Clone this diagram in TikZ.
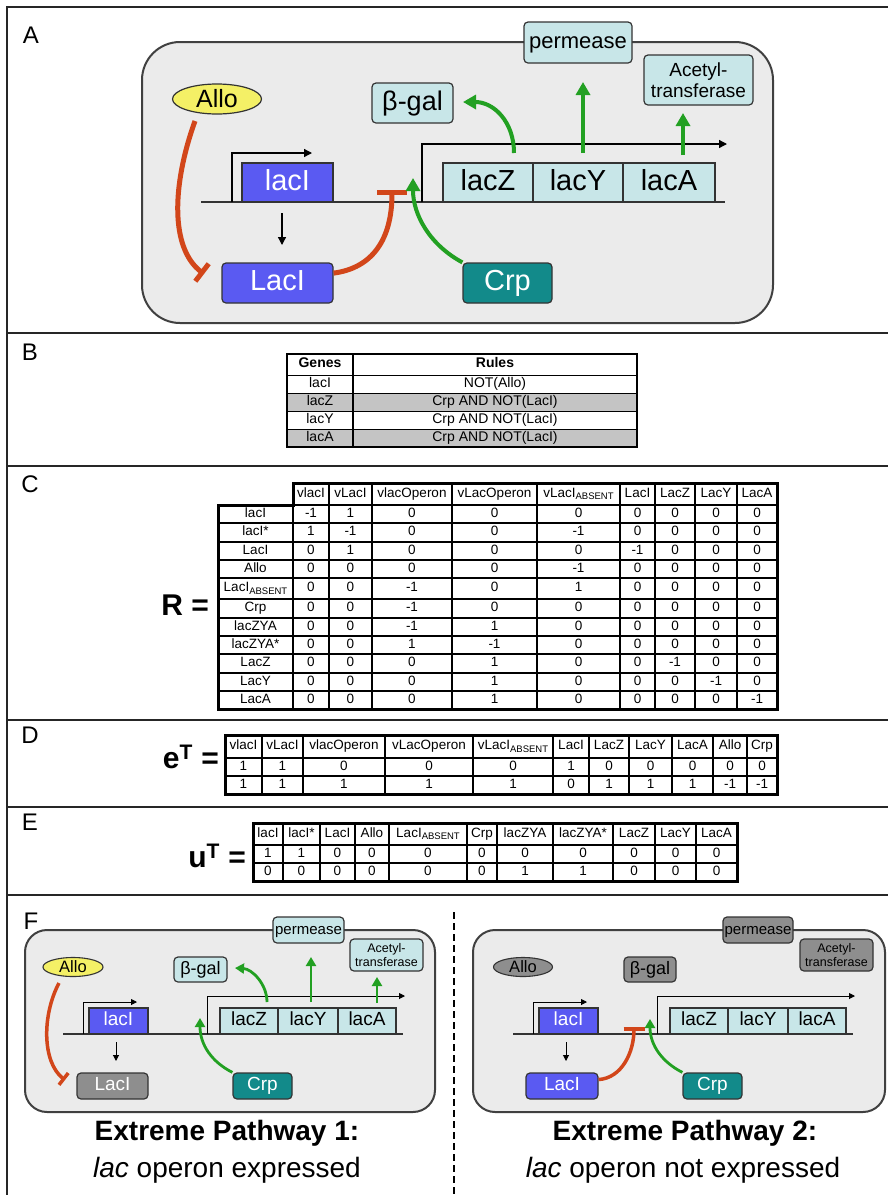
\documentclass[tikz,border=0pt]{standalone}
\usepackage{fontspec}
\setmainfont{Liberation Sans}
\usetikzlibrary{arrows.meta,shapes.geometric}
\definecolor{cellgray}{HTML}{EBEBEB}
\definecolor{geneblue}{HTML}{5A5AF2}
\definecolor{lightcyan}{HTML}{C8E6E8}
\definecolor{tealc}{HTML}{128A8A}
\definecolor{alloyellow}{HTML}{F4F066}
\definecolor{repred}{HTML}{D2461A}
\definecolor{actgreen}{HTML}{22A022}
\definecolor{offgray}{HTML}{8E8E8E}
\definecolor{rowgray}{HTML}{C4C4C4}
\newcommand\fs[1]{\fontsize{#1}{#1}\selectfont}
\newcommand\absub{\raisebox{-0.35ex}{\fontsize{9.5}{9.5}\selectfont ABSENT}}
\def\CXh{{293,329,372,452,537,620,655,695,737,777}}
\def\CX{{218,293,329,372,452,537,620,655,695,737,777}}
\def\DX{{225,262,303,385,473,553,589,629,672,713,747,777}}
\def\EX{{253,283,320,355,389,467,497,553,613,655,696,737}}
% #1 name prefix, #2 x-boundary array, #3 top, #4 bottom, #5 entries
\newcommand\trow[5]{%
  \foreach \vv [count=\cc] in {#5} {%
    \pgfmathsetmacro\xa{#2[\cc-1]}%
    \pgfmathsetmacro\xb{#2[\cc]}%
    \draw[tcell] (\xa,#3) rectangle (\xb,#4);
    \node[ttext] (#1\cc) at ({(\xa+\xb)/2},{(#3+#4)/2}) {\vv};
  }}
\begin{document}
\begin{tikzpicture}[x=1pt,y=-1pt,
  frame/.style={line width=2.5pt, draw=black!85},
  cellbox/.style={draw=black!75, fill=cellgray, line width=2pt},
  gene/.style={draw=black!80, line width=1.2pt, inner sep=0pt},
  prot/.style={draw=black!80, line width=1.2pt, rounded corners=4pt, inner sep=0pt},
  multi/.style={draw=black!80, line width=1.2pt, rounded corners=4pt, inner sep=0pt, align=center},
  bigtxt/.style={font=\fs{29}, text height=21pt, text depth=6pt},
  midtxt/.style={font=\fs{27}, text height=19.5pt, text depth=5.5pt},
  smtxt/.style={font=\fs{19}, text height=13.7pt, text depth=3.8pt},
  dna/.style={line width=1.5pt, draw=black!80},
  tx/.style={line width=1.3pt, draw=black, -{Triangle[length=8pt,width=8pt]}},
  txs/.style={line width=1pt, draw=black, -{Triangle[length=6pt,width=6pt]}},
  act/.style={line width=4pt, draw=actgreen, -{Triangle[length=13pt,width=14pt]}},
  acts/.style={line width=2.8pt, draw=actgreen, -{Triangle[length=9pt,width=10pt]}},
  rep/.style={line width=5pt, draw=repred},
  reps/.style={line width=3.5pt, draw=repred},
  tcell/.style={line width=1.6pt, draw=black},
  ttext/.style={inner sep=0pt, font=\fs{13.5}, text height=9.7pt, text depth=2.8pt},
  plabel/.style={inner sep=0pt, font=\fs{24}},
  eq/.style={inner sep=0pt, anchor=east, font=\fs{30}\bfseries}
]
\useasboundingbox (0,0) rectangle (888,1195);
\fill[white] (0,0) rectangle (888,1195);

% ---------------- frame and dividers
\coordinate (fBL) at (7,1195); \coordinate (fTL) at (7,7); \coordinate (fTR) at (888,7);
\draw[frame] (fBL) -- (fTL) -- (fTR);
\foreach \yy [count=\i] in {333,466,720,807,895} {
  \coordinate (dl\i) at (7,\yy); \coordinate (dr\i) at (888,\yy);
  \draw[frame] (dl\i) -- (dr\i);
}
\node[plabel] (labA) at (31,35) {A};
\node[plabel] (labB) at (30,352) {B};
\node[plabel] (labC) at (30,484) {C};
\node[plabel] (labD) at (30,735) {D};
\node[plabel] (labE) at (30,822) {E};
\node[plabel] (labF) at (31,921) {F};

% ---------------- Panel A
\draw[cellbox, rounded corners=38pt] (142,42) rectangle (773,323);
\coordinate (dAl) at (201,202); \coordinate (dAr) at (725,202);
\draw[dna] (dAl) -- (dAr);
\node[gene, bigtxt, fill=geneblue, text=white, minimum width=91pt, minimum height=39pt] (AlacIg) at (287.5,182.5) {lacI};
\node[gene, bigtxt, fill=lightcyan, minimum width=90pt, minimum height=39pt] (AlacZ) at (488,182.5) {lacZ};
\node[gene, bigtxt, fill=lightcyan, minimum width=90pt, minimum height=39pt] (AlacY) at (578,182.5) {lacY};
\node[gene, bigtxt, fill=lightcyan, minimum width=92pt, minimum height=39pt] (AlacA) at (669,182.5) {lacA};
\coordinate (pA1s) at (232,202); \coordinate (pA1e) at (312,153);
\draw[tx] (pA1s) |- (pA1e);
\coordinate (pA2s) at (422,202); \coordinate (pA2e) at (727,144);
\draw[tx] (pA2s) |- (pA2e);
\node[prot, bigtxt, fill=geneblue, text=white, minimum width=111pt, minimum height=40pt] (ALacIp) at (277.5,283) {LacI};
\node[prot, bigtxt, fill=tealc, text=white, minimum width=89pt, minimum height=40pt] (ACrp) at (507.5,283) {Crp};
\node[ellipse, draw=black!80, line width=1.2pt, fill=alloyellow, minimum width=89pt, minimum height=30pt, inner sep=0pt, font=\fs{25}] (AAllo) at (217,99) {Allo};
\node[prot, midtxt, fill=lightcyan, minimum width=81pt, minimum height=40pt] (Abgal) at (412.5,103) {β-gal};
\node[prot, fill=lightcyan, minimum width=108pt, minimum height=41pt, font=\fs{22}, text height=16pt, text depth=4.5pt] (Aperm) at (578,42.5) {permease};
\node[multi, fill=lightcyan, minimum width=109pt, minimum height=50pt, font=\fontsize{19}{20.5}\selectfont] (Aacet) at (698.5,80) {Acetyl-\\transferase};
\coordinate (sA1) at (282,213); \coordinate (sA2) at (282,245);
\draw[tx] (sA1) -- (sA2);
\coordinate (rA0) at (195,121); \coordinate (rA1) at (204,274);
\draw[rep, -{Bar[width=22pt]}] (rA0) .. controls (172,185) and (170,248) .. (rA1);
\coordinate (rB1) at (392,190);
\draw[rep, -{Bar[width=30pt]}] (ALacIp.10) .. controls (372,268) and (392,240) .. (rB1);
\coordinate (gA1) at (413,178);
\draw[act] (ACrp.north west) .. controls (430,245) and (413,215) .. (gA1);
\coordinate (gA2) at (514,153); \coordinate (gA2e) at (463,102);
\draw[act] (gA2) .. controls (514,122) and (494,102) .. (gA2e);
\coordinate (gA3) at (583,153); \coordinate (gA4) at (583,82);
\draw[act] (gA3) -- (gA4);
\coordinate (gA5) at (683,155); \coordinate (gA6) at (683,113);
\draw[act] (gA5) -- (gA6);

% ---------------- Panel B
\fill[rowgray] (287,393) rectangle (637,411);
\fill[rowgray] (287,429) rectangle (637,447);
\foreach \yy in {375,393,411,429} { \draw[line width=0.8pt] (287,\yy) -- (637,\yy); }
\draw[line width=2pt] (353,354) -- (353,447);
\draw[line width=2pt] (287,354) rectangle (637,447);
\node[ttext, font=\fs{14}\bfseries] (Bgenes) at (320,364.5) {Genes};
\node[ttext, font=\fs{14}\bfseries] (Brules) at (495,364.5) {Rules};
\foreach \g/\rr/\yy [count=\i] in {lacI/NOT(Allo)/384, lacZ/Crp AND NOT(LacI)/402, lacY/Crp AND NOT(LacI)/420, lacA/Crp AND NOT(LacI)/438} {
  \node[ttext, font=\fs{14}] (Bg\i) at (320,\yy) {\g};
  \node[ttext, font=\fs{14}] (Br\i) at (495,\yy) {\rr};
}

% ---------------- Panel C
\node[eq] (Req) at (209,605) {R =};
\trow{Ch}{\CXh}{483}{505}{vlacI,vLacI,vlacOperon,vLacOperon,vLacI\absub,LacI,LacZ,LacY,LacA}
\trow{Ca}{\CX}{505}{523}{lacI,-1,1,0,0,0,0,0,0,0}
\trow{Cb}{\CX}{523}{542}{lacI*,1,-1,0,0,-1,0,0,0,0}
\trow{Cc}{\CX}{542}{560}{LacI,0,1,0,0,0,-1,0,0,0}
\trow{Cd}{\CX}{560}{578}{Allo,0,0,0,0,-1,0,0,0,0}
\trow{Ce}{\CX}{578}{599}{LacI\absub,0,0,-1,0,1,0,0,0,0}
\trow{Cf}{\CX}{599}{618}{Crp,0,0,-1,0,0,0,0,0,0}
\trow{Cg}{\CX}{618}{636}{lacZYA,0,0,-1,1,0,0,0,0,0}
\trow{Ch}{\CX}{636}{654}{lacZYA*,0,0,1,-1,0,0,0,0,0}
\trow{Ci}{\CX}{654}{673}{LacZ,0,0,0,1,0,0,-1,0,0}
\trow{Cj}{\CX}{673}{691}{LacY,0,0,0,1,0,0,0,-1,0}
\trow{Ck}{\CX}{691}{709}{LacA,0,0,0,1,0,0,0,0,-1}
\draw[line width=3pt] (293,483) -- (777,483) -- (777,709) -- (218,709) -- (218,505) -- (293,505) -- cycle;

% ---------------- Panel D
\node[eq] (Deq) at (219,757) {e\textsuperscript{T} =};
\trow{Dh}{\DX}{735}{758}{vlacI,vLacI,vlacOperon,vLacOperon,vLacI\absub,LacI,LacZ,LacY,LacA,Allo,Crp}
\trow{Da}{\DX}{758}{776}{1,1,0,0,0,1,0,0,0,0,0}
\trow{Db}{\DX}{776}{794}{1,1,1,1,1,0,1,1,1,-1,-1}
\draw[line width=3pt] (225,735) rectangle (777,794);

% ---------------- Panel E
\node[eq] (Eeq) at (246,856) {u\textsuperscript{T} =};
\trow{Eh}{\EX}{823}{845}{lacI,lacI*,LacI,Allo,LacI\absub,Crp,lacZYA,lacZYA*,LacZ,LacY,LacA}
\trow{Ea}{\EX}{845}{863}{1,1,0,0,0,0,0,0,0,0,0}
\trow{Eb}{\EX}{863}{881}{0,0,0,0,0,0,1,1,0,0,0}
\draw[line width=3pt] (253,823) rectangle (737,881);

% ---------------- Panel F left
\draw[cellbox, rounded corners=22pt] (25,930) rectangle (435,1112);
\coordinate (dFl) at (63,1034); \coordinate (dFr) at (403,1034);
\draw[dna] (dFl) -- (dFr);
\node[gene, smtxt, fill=geneblue, text=white, minimum width=59pt, minimum height=26pt] (FlacIg) at (118.5,1021) {lacI};
\node[gene, smtxt, fill=lightcyan, minimum width=58pt, minimum height=26pt] (FlacZ) at (249,1021) {lacZ};
\node[gene, smtxt, fill=lightcyan, minimum width=60pt, minimum height=26pt] (FlacY) at (308,1021) {lacY};
\node[gene, smtxt, fill=lightcyan, minimum width=58pt, minimum height=26pt] (FlacA) at (367,1021) {lacA};
\coordinate (pF1s) at (83,1034); \coordinate (pF1e) at (137,1002);
\draw[txs] (pF1s) |- (pF1e);
\coordinate (pF2s) at (207,1034); \coordinate (pF2e) at (405,996);
\draw[txs] (pF2s) |- (pF2e);
\node[prot, smtxt, fill=offgray, text=white, minimum width=71pt, minimum height=26pt] (FLacIp) at (112.5,1086) {LacI};
\node[prot, smtxt, fill=tealc, text=white, minimum width=59pt, minimum height=26pt] (FCrp) at (262.5,1086) {Crp};
\node[ellipse, draw=black!80, line width=1.1pt, fill=alloyellow, minimum width=60pt, minimum height=19pt, inner sep=0pt, font=\fs{16.5}] (FAllo) at (73,967) {Allo};
\node[prot, fill=lightcyan, minimum width=53pt, minimum height=25pt, font=\fs{18}, text height=13pt, text depth=3.6pt] (Fbgal) at (200.5,969.5) {β-gal};
\node[prot, fill=lightcyan, minimum width=71pt, minimum height=26pt, font=\fs{15}, text height=11pt, text depth=3pt] (Fperm) at (308.5,930) {permease};
\node[multi, fill=lightcyan, minimum width=73pt, minimum height=32pt, font=\fontsize{12.5}{13.5}\selectfont] (Facet) at (386.5,955) {Acetyl-\\transferase};
\coordinate (sF1) at (116,1042); \coordinate (sF2) at (116,1061);
\draw[txs] (sF1) -- (sF2);
\coordinate (rF0) at (59,983); \coordinate (rF1) at (65,1080);
\draw[reps, -{Bar[width=15pt]}] (rF0) .. controls (42,1015) and (42,1062) .. (rF1);
\coordinate (gF1) at (200,1018);
\draw[acts] (FCrp.north west) .. controls (212,1062) and (200,1045) .. (gF1);
\coordinate (gF2) at (267,1002); \coordinate (gF2e) at (235,968);
\draw[acts] (gF2) .. controls (267,984) and (252,969) .. (gF2e);
\coordinate (gF3) at (311,1002); \coordinate (gF4) at (311,957);
\draw[acts] (gF3) -- (gF4);
\coordinate (gF5) at (377,1003); \coordinate (gF6) at (377,977);
\draw[acts] (gF5) -- (gF6);
\node[inner sep=0pt, font=\fs{28}\bfseries] (Ft1) at (227,1133) {Extreme Pathway 1:};
\node[inner sep=0pt, font=\fs{28}] (Ft2) at (227,1170) {\itshape lac\upshape\ operon expressed};

% ---------------- dashed separator
\coordinate (sep1) at (454,912); \coordinate (sep2) at (454,1195);
\draw[line width=1.6pt, dash pattern=on 7pt off 4pt] (sep1) -- (sep2);

% ---------------- Panel F right
\draw[cellbox, rounded corners=22pt] (473,930) rectangle (885,1112);
\coordinate (dGl) at (513,1034); \coordinate (dGr) at (853,1034);
\draw[dna] (dGl) -- (dGr);
\node[gene, smtxt, fill=geneblue, text=white, minimum width=59pt, minimum height=26pt] (GlacIg) at (568.5,1021) {lacI};
\node[gene, smtxt, fill=lightcyan, minimum width=58pt, minimum height=26pt] (GlacZ) at (699,1021) {lacZ};
\node[gene, smtxt, fill=lightcyan, minimum width=60pt, minimum height=26pt] (GlacY) at (758,1021) {lacY};
\node[gene, smtxt, fill=lightcyan, minimum width=58pt, minimum height=26pt] (GlacA) at (817,1021) {lacA};
\coordinate (pG1s) at (533,1034); \coordinate (pG1e) at (587,1002);
\draw[txs] (pG1s) |- (pG1e);
\coordinate (pG2s) at (657,1034); \coordinate (pG2e) at (855,996);
\draw[txs] (pG2s) |- (pG2e);
\node[prot, smtxt, fill=geneblue, text=white, minimum width=72pt, minimum height=26pt] (GLacIp) at (562,1086) {LacI};
\node[prot, smtxt, fill=tealc, text=white, minimum width=59pt, minimum height=26pt] (GCrp) at (712.5,1086) {Crp};
\node[ellipse, draw=black!80, line width=1.1pt, fill=offgray, minimum width=59pt, minimum height=19pt, inner sep=0pt, font=\fs{16.5}] (GAllo) at (523,967) {Allo};
\node[prot, fill=offgray, minimum width=52pt, minimum height=25pt, font=\fs{18}, text height=13pt, text depth=3.6pt] (Gbgal) at (650,969.5) {β-gal};
\node[prot, fill=offgray, minimum width=70pt, minimum height=26pt, font=\fs{15}, text height=11pt, text depth=3pt] (Gperm) at (758,930) {permease};
\node[multi, fill=offgray, minimum width=73pt, minimum height=32pt, font=\fontsize{12.5}{13.5}\selectfont] (Gacet) at (836.5,955) {Acetyl-\\transferase};
\coordinate (sG1) at (566,1042); \coordinate (sG2) at (566,1061);
\draw[txs] (sG1) -- (sG2);
\coordinate (rG1) at (634,1027);
\draw[reps, -{Bar[width=21pt]}] (GLacIp.10) .. controls (622,1078) and (634,1052) .. (rG1);
\coordinate (gG1) at (650,1019);
\draw[acts] (GCrp.north west) .. controls (662,1062) and (650,1045) .. (gG1);
\node[inner sep=0pt, font=\fs{28}\bfseries] (Gt1) at (685,1133) {Extreme Pathway 2:};
\node[inner sep=0pt, font=\fs{28}] (Gt2) at (683,1170) {\itshape lac\upshape\ operon not expressed};
\end{tikzpicture}
\end{document}
